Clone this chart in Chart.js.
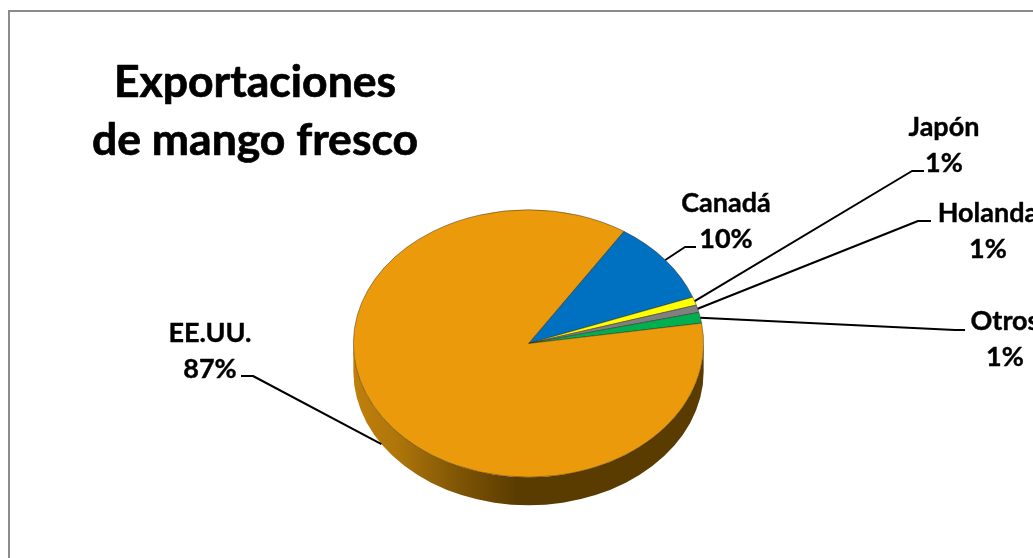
<!DOCTYPE html>
<html lang="es">
<head>
<meta charset="utf-8">
<title>Exportaciones de mango fresco</title>
<script src="https://cdn.jsdelivr.net/npm/chart.js@4/dist/chart.umd.js"></script>
<style>
    html, body { margin: 0; padding: 0; background: #fff; overflow: hidden; }
    canvas { display: block; }
</style>
</head>
<body>
<canvas id="pieChart" width="1033" height="558"></canvas>
<script>
// Chart values
const categories = ['Canadá', 'Japón', 'Holanda', 'Otros', 'EE.UU.'];
const shares = [10.2, 1.0, 0.9, 1.3, 86.6];
const sliceColors = ['#0070C0', '#FFFF00', '#808080', '#00B050', '#EA9A0A'];
const titleLines = ['Exportaciones', 'de mango fresco'];

// Label placement: text centre, first baseline, leader elbow and leader end
const labelSpots = [
    { x: 726, y: 212, elbowX: 685, elbowY: 247, endX: 696, endY: 247 },
    { x: 944, y: 136, elbowX: 912, elbowY: 171, endX: 924, endY: 171 },
    { x: 988, y: 222, elbowX: 918, elbowY: 221, endX: 931, endY: 221 },
    { x: 1005, y: 330, elbowX: 955, elbowY: 330, endX: 965, endY: 330 },
    { x: 210, y: 342, elbowX: 253, elbowY: 376, endX: 241, endY: 376 }
];

const FONT = 'Lato, "Open Sans", sans-serif';
const SQUASH = 134 / 175.5; // tilt of the pie
const DEPTH = 28;

// Side wall of the pie, drawn under the slices
function drawWall(chart) {
    const ctx = chart.ctx;
    const arcs = chart.getDatasetMeta(0).data;
    arcs.forEach(function(arc) {
        const from = Math.max(arc.startAngle, 0);
        const to = Math.min(arc.endAngle, Math.PI);
        if (to <= from) return;
        const rx = arc.outerRadius;
        const ry = rx * SQUASH;
        const grad = ctx.createLinearGradient(arc.x - rx, 0, arc.x + rx, 0);
        grad.addColorStop(0, '#C07F0B');
        grad.addColorStop(0.12, '#B0760A');
        grad.addColorStop(0.3, '#7F5505');
        grad.addColorStop(0.47, '#5A3B00');
        grad.addColorStop(1, '#5A3B00');
        ctx.beginPath();
        ctx.ellipse(arc.x, arc.y, rx, ry, 0, from, to);
        ctx.ellipse(arc.x, arc.y + DEPTH, rx, ry, 0, to, from, true);
        ctx.closePath();
        ctx.fillStyle = grad;
        ctx.fill();
    });
}

// Bold text with a hair of stroke, the reference face is heavier than Lato Bold
function heavyText(ctx, text, x, y, weight) {
    ctx.lineWidth = weight;
    ctx.strokeText(text, x, y);
    ctx.fillText(text, x, y);
}

const pie3d = {
    id: 'pie3d',
    beforeDraw(chart) {
        // Grey frame of the chart area
        const ctx = chart.ctx;
        ctx.save();
        ctx.strokeStyle = '#8C8C8C';
        ctx.lineWidth = 2;
        ctx.beginPath();
        ctx.moveTo(9, 558);
        ctx.lineTo(9, 11);
        ctx.lineTo(1033, 11);
        ctx.stroke();
        ctx.restore();
    },
    beforeDatasetsDraw(chart) {
        const arc = chart.getDatasetMeta(0).data[0];
        drawWall(chart);
        chart.ctx.save();
        chart.ctx.translate(arc.x, arc.y);
        chart.ctx.scale(1, SQUASH);
        chart.ctx.translate(-arc.x, -arc.y);
    },
    afterDatasetsDraw(chart) {
        chart.ctx.restore();
    },
    afterDraw(chart) {
        const ctx = chart.ctx;
        ctx.save();
        ctx.fillStyle = '#000';
        ctx.strokeStyle = '#000';
        ctx.lineJoin = 'round';
        ctx.textAlign = 'center';
        ctx.textBaseline = 'alphabetic';

        // Title
        ctx.font = 'bold 44.5px ' + FONT;
        heavyText(ctx, titleLines[0], 255, 97, 0.7);
        heavyText(ctx, titleLines[1], 255, 155, 0.7);

        // Leaders and labels
        ctx.font = 'bold 27px ' + FONT;
        chart.getDatasetMeta(0).data.forEach(function(arc, i) {
            const spot = labelSpots[i];
            const mid = (arc.startAngle + arc.endAngle) / 2;
            const rimX = arc.x + arc.outerRadius * Math.cos(mid);
            let rimY = arc.y + arc.outerRadius * SQUASH * Math.sin(mid);
            if (Math.sin(mid) > 0) rimY += DEPTH;
            ctx.lineWidth = 2;
            ctx.beginPath();
            ctx.moveTo(rimX, rimY);
            ctx.lineTo(spot.elbowX, spot.elbowY);
            ctx.lineTo(spot.endX, spot.endY);
            ctx.stroke();
            heavyText(ctx, categories[i], spot.x, spot.y, 0.4);
            heavyText(ctx, Math.round(shares[i]) + '%', spot.x, spot.y + 36, 0.4);
        });
        ctx.restore();
    }
};

new Chart(document.getElementById('pieChart'), {
    type: 'pie',
    data: {
        labels: categories,
        datasets: [{
            data: shares,
            backgroundColor: sliceColors,
            borderColor: 'rgba(50, 40, 20, 0.75)',
            borderWidth: 0.7
        }]
    },
    options: {
        responsive: false,
        animation: false,
        rotation: 33,
        layout: {
            padding: { left: 353, right: 329, top: 168, bottom: 39 }
        },
        plugins: {
            legend: { display: false },
            tooltip: { enabled: false },
            title: { display: false }
        }
    },
    plugins: [pie3d]
});
</script>
</body>
</html>
